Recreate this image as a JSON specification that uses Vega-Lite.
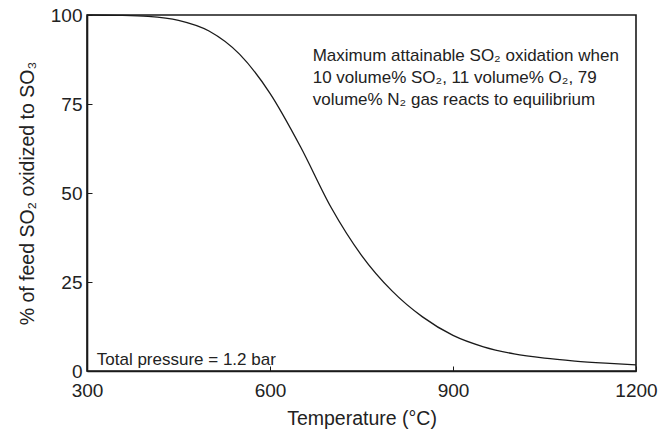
{
  "$schema": "https://vega.github.io/schema/vega-lite/v6.json",
  "autosize": {"type": "none"},
  "padding": {"left": 87, "top": 15, "right": 24, "bottom": 61},
  "width": 549,
  "height": 356,
  "background": "white",
  "config": {
    "font": "Liberation Sans",
    "view": {"stroke": "#1a1a1a", "strokeWidth": 1.6},
    "axis": {
      "grid": false,
      "domainColor": "#1a1a1a",
      "domainWidth": 1.6,
      "tickColor": "#1a1a1a",
      "tickSize": -5,
      "labelColor": "#222",
      "titleColor": "#222",
      "labelFont": "Liberation Sans",
      "titleFont": "Liberation Sans",
      "labelFontSize": 19,
      "titleFontSize": 19.5,
      "titleFontWeight": "normal",
      "labelFlush": false
    }
  },
  "layer": [
    {
      "data": {
        "values": [
          {"T": 300, "pct": 100},
          {"T": 350, "pct": 99.9},
          {"T": 400, "pct": 99.6},
          {"T": 450, "pct": 98.5},
          {"T": 500, "pct": 95.5},
          {"T": 550, "pct": 89},
          {"T": 600, "pct": 78},
          {"T": 650, "pct": 63},
          {"T": 700, "pct": 46},
          {"T": 750, "pct": 32.5},
          {"T": 800, "pct": 22.5},
          {"T": 850, "pct": 15.2},
          {"T": 900, "pct": 10},
          {"T": 950, "pct": 6.8},
          {"T": 1000, "pct": 4.8},
          {"T": 1050, "pct": 3.6},
          {"T": 1100, "pct": 2.8},
          {"T": 1150, "pct": 2.2},
          {"T": 1200, "pct": 1.7}
        ]
      },
      "mark": {"type": "line", "color": "#1a1a1a", "strokeWidth": 1.3, "interpolate": "monotone"},
      "encoding": {
        "x": {
          "field": "T", "type": "quantitative",
          "scale": {"domain": [300, 1200], "nice": false},
          "axis": {"values": [300, 600, 900, 1200], "format": "d", "title": "Temperature (°C)", "labelPadding": 15, "titlePadding": 9}
        },
        "y": {
          "field": "pct", "type": "quantitative",
          "scale": {"domain": [0, 100], "nice": false},
          "axis": {"values": [0, 25, 50, 75, 100], "title": "% of feed SO₂ oxidized to SO₃", "labelPadding": 10, "titlePadding": 13}
        }
      }
    },
    {
      "data": {"values": [{"T": 670, "pct": 88.5}]},
      "mark": {
        "type": "text",
        "text": ["Maximum attainable SO₂ oxidation when", "10 volume% SO₂, 11 volume% O₂, 79", "volume% N₂ gas reacts to equilibrium"],
        "align": "left",
        "baseline": "middle",
        "fontSize": 17,
        "fontWeight": "normal",
        "lineHeight": 22,
        "color": "#222"
      },
      "encoding": {
        "x": {"field": "T", "type": "quantitative"},
        "y": {"field": "pct", "type": "quantitative"}
      }
    },
    {
      "data": {"values": [{"T": 316, "pct": 3.2}]},
      "mark": {
        "type": "text",
        "text": "Total pressure = 1.2 bar",
        "align": "left",
        "baseline": "middle",
        "fontSize": 17,
        "fontWeight": "normal",
        "color": "#222"
      },
      "encoding": {
        "x": {"field": "T", "type": "quantitative"},
        "y": {"field": "pct", "type": "quantitative"}
      }
    }
  ]
}
